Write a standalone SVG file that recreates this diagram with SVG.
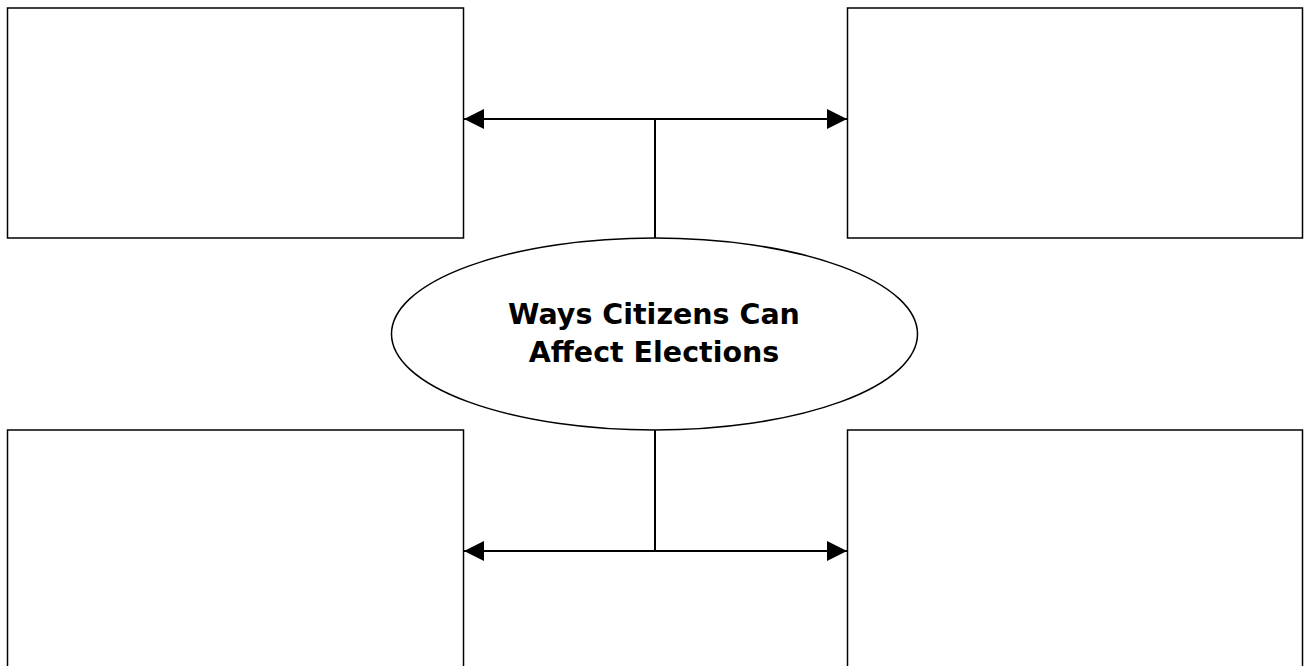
<svg xmlns="http://www.w3.org/2000/svg" width="1309" height="666" viewBox="0 0 1309 666">
<style>
.box{fill:#fff;stroke:#000;stroke-width:1.5}
.conn{fill:none;stroke:#000;stroke-width:2}
.title{font-family:"DejaVu Sans",Verdana,sans-serif;font-weight:bold;font-size:28.5px;fill:#000;text-anchor:middle}
</style>
<defs>
<marker id="ah" viewBox="0 0 20 20" refX="20" refY="10" markerWidth="20" markerHeight="20" markerUnits="userSpaceOnUse" orient="auto-start-reverse">
<path d="M0,0 L20,10 L0,20 Z" fill="#000"/>
</marker>
</defs>
<rect width="1309" height="666" fill="#fff"/>
<g id="box-top-left"><rect class="box" x="7.5" y="8" width="456" height="230"/></g>
<g id="box-top-right"><rect class="box" x="847.5" y="8" width="455" height="230"/></g>
<g id="box-bottom-left"><rect class="box" x="7.5" y="430" width="456" height="250"/></g>
<g id="box-bottom-right"><rect class="box" x="847.5" y="430" width="455" height="250"/></g>
<g id="connectors">
<line class="conn" x1="464" y1="119" x2="847" y2="119" marker-start="url(#ah)" marker-end="url(#ah)"/>
<line class="conn" x1="655" y1="119" x2="655" y2="238"/>
<line class="conn" x1="464" y1="551" x2="847" y2="551" marker-start="url(#ah)" marker-end="url(#ah)"/>
<line class="conn" x1="655" y1="430" x2="655" y2="551"/>
</g>
<g id="center">
<ellipse class="box" cx="654.5" cy="334" rx="263" ry="96"/>
<text class="title" x="654" y="324">Ways Citizens Can</text>
<text class="title" x="654" y="362">Affect Elections</text>
</g>
</svg>
